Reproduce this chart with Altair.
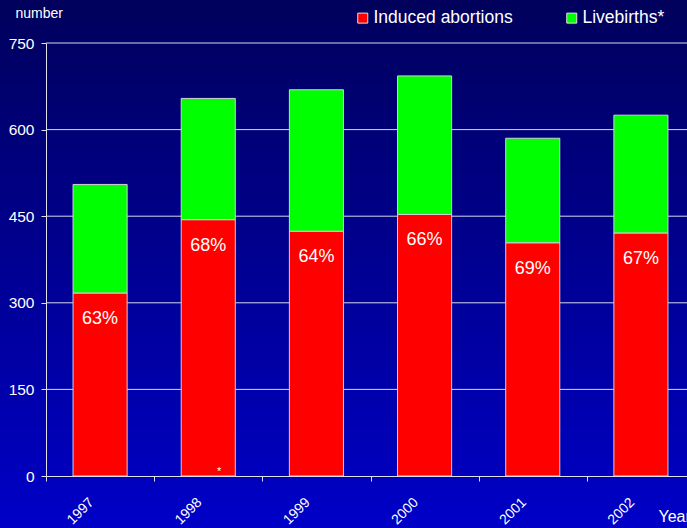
import altair as alt
import pandas as pd

years = ["1997", "1998", "1999", "2000", "2001", "2002"]
abortions = [317, 444, 424, 453, 404, 421]
livebirths = [188, 210, 245, 240, 181, 204]
pct_labels = ["63%", "68%", "64%", "66%", "69%", "67%"]
notes = ["", "*", "", "", "", ""]
series = ["Induced abortions", "Livebirths*"]
colors = ["#FF0000", "#00FF00"]
y_ticks = [0, 150, 300, 450, 600, 750]

rows = []
for i, yr in enumerate(years):
    rows.append({"year": yr, "type": series[0], "value": abortions[i], "ord": 0})
    rows.append({"year": yr, "type": series[1], "value": livebirths[i], "ord": 1})
long_df = pd.DataFrame(rows)
pct_df = pd.DataFrame({"year": years, "value": abortions, "pct": pct_labels})
note_df = pd.DataFrame({"year": years, "value": [0] * len(years), "note": notes})
grid_df = pd.DataFrame({"value": y_ticks[1:]})

W, H = 641, 433
FONT = "Liberation Sans"
AXC = "#E0E0E8"

xscale = alt.Scale(domain=years, range=[0, 649], paddingInner=0.5, paddingOuter=0.25)
yscale = alt.Scale(domain=[0, 750], nice=False, zero=True)

x_axis = alt.Axis(
    title="Year", titleX=612, titleY=40, titleAlign="left", titleBaseline="middle",
    titleFontSize=16, titleFont=FONT, titleColor="white", titleFontWeight="normal",
    labelAngle=-45, labelAlign="right", labelBaseline="middle",
    tickOffset=-54, labelOffset=45,
    labelPadding=19, labelFontSize=14, labelFont=FONT, labelColor="white",
    tickSize=5, tickColor=AXC, domainColor=AXC,
    grid=False, zindex=1,
)
y_axis = alt.Axis(
    values=y_ticks, title="number", titleAngle=0, titleX=-31, titleY=-30,
    titleAlign="left", titleBaseline="middle", titleFontSize=14, titleFont=FONT,
    titleColor="white", titleFontWeight="normal",
    labelFontSize=15.5, labelFont=FONT, labelColor="white", labelPadding=7,
    tickSize=5, tickColor=AXC, domainColor=AXC, grid=False, zindex=1,
)

X = alt.X("year:N", scale=xscale, sort=years, axis=x_axis)
Y = alt.Y("value:Q", scale=yscale, axis=y_axis)

bg = alt.Chart(pd.DataFrame({"a": [0]})).mark_rect(
    color=alt.Gradient(
        gradient="linear",
        stops=[alt.GradientStop(color="#00005C", offset=0),
               alt.GradientStop(color="#0000C8", offset=1)],
        x1=0, x2=0, y1=0, y2=1,
    )
).encode(x=alt.value(-46), x2=alt.value(W), y=alt.value(-43), y2=alt.value(H + 52))

grid = alt.Chart(grid_df).mark_rule(color="#D8D8E8", strokeWidth=1).encode(y=Y)

bars = alt.Chart(long_df).mark_bar(stroke="#D0D0D8", strokeWidth=1).encode(
    x=X,
    y=alt.Y("value:Q", scale=yscale, stack="zero", axis=y_axis),
    color=alt.Color("type:N", scale=alt.Scale(domain=series, range=colors), legend=alt.Legend(
        orient="none", legendX=308, legendY=-34, direction="horizontal", title=None,
        symbolType="square", symbolSize=100, symbolStrokeColor="#E0E0E0", symbolStrokeWidth=1,
        labelFontSize=17.5, labelFont=FONT, labelColor="white", labelOffset=2, columnPadding=50,
    )),
    order=alt.Order("ord:Q"),
)

pct = alt.Chart(pct_df).mark_text(
    color="white", fontSize=18, font=FONT, baseline="middle", align="center", dy=26
).encode(x=X, y=Y, text="pct:N")

note = alt.Chart(note_df).mark_text(
    color="white", fontSize=11, font=FONT, baseline="middle", align="center", dx=11, dy=-4
).encode(x=X, y=Y, text="note:N")

chart = alt.layer(bg, grid, bars, pct, note).properties(
    width=W, height=H,
    autosize=alt.AutoSizeParams(type="none"),
    padding={"left": 46, "top": 43, "right": 0, "bottom": 52},
    background="#00005C",
).configure_view(stroke=None)

chart.save("out.html", embed_options={"renderer": "svg", "actions": False})
